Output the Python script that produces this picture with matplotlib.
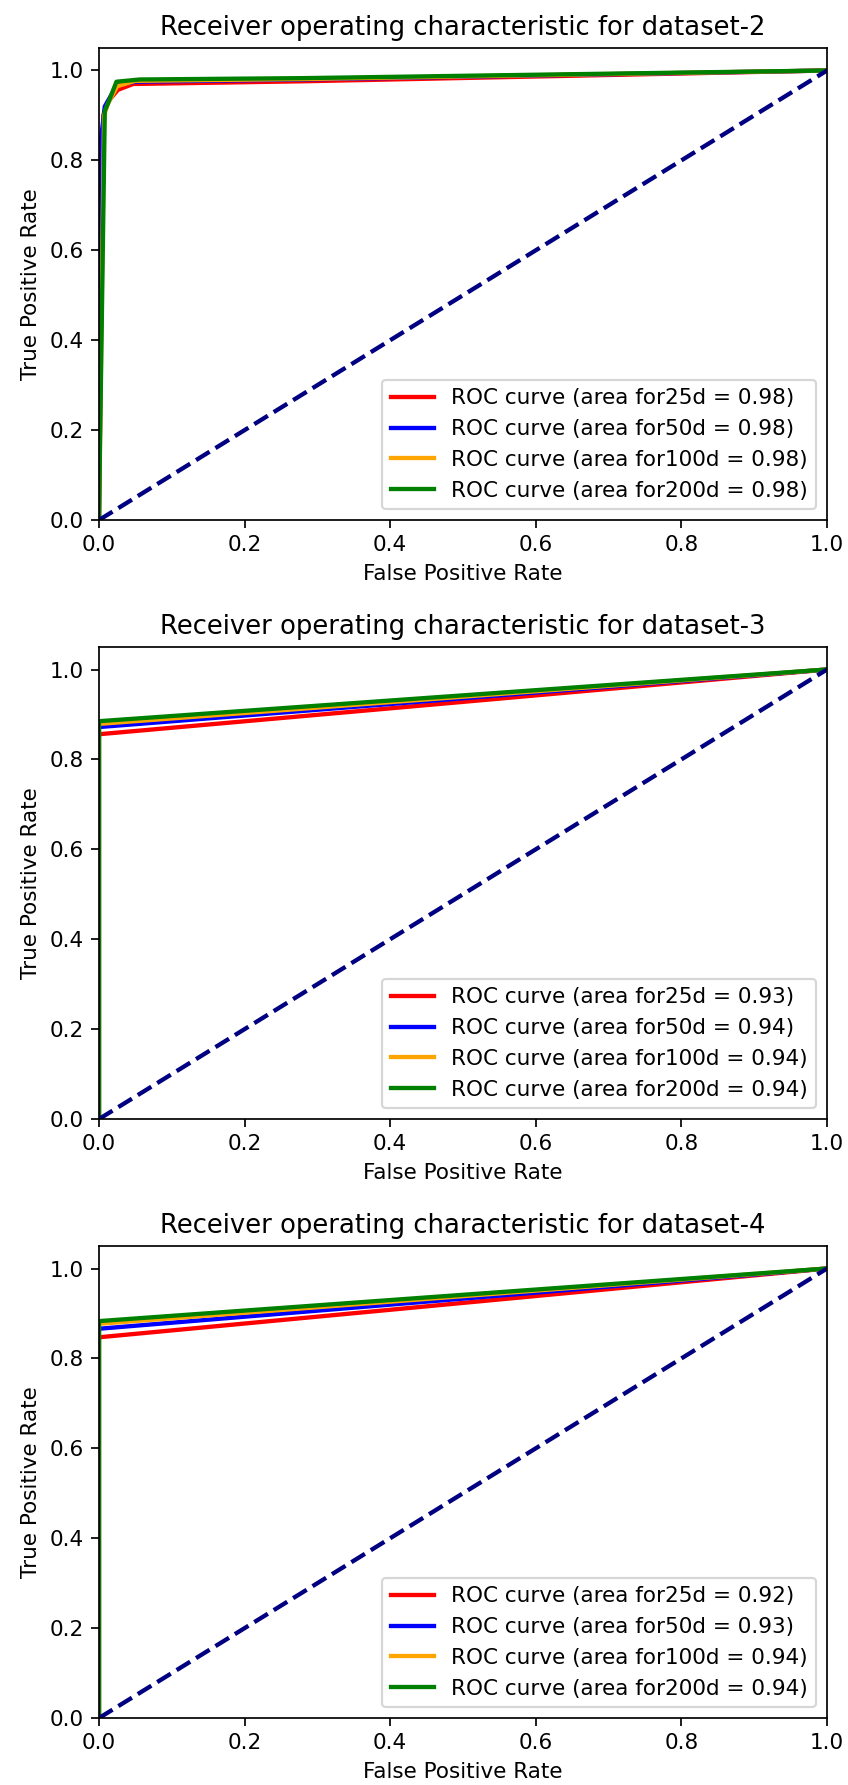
import numpy as np
import matplotlib
matplotlib.use("Agg")
import matplotlib.pyplot as plt

# ROC points per embedding size, one block per dataset
DIMS = ["25d", "50d", "100d", "200d"]
COLORS = ["red", "blue", "orange", "green"]
DATASETS = ["dataset-2", "dataset-3", "dataset-4"]

# dataset-2: steep curves, almost perfect
fpr_ds2 = [
    [0, 0.006, 0.012, 0.026, 0.047, 0.28, 1],
    [0, 0.003, 0.008, 0.025, 0.05, 0.28, 1],
    [0, 0.007, 0.012, 0.025, 0.05, 0.28, 1],
    [0, 0.008, 0.012, 0.024, 0.056, 0.28, 1],
]
tpr_ds2 = [
    [0, 0.90, 0.93, 0.957, 0.970, 0.976, 1],
    [0, 0.85, 0.92, 0.968, 0.975, 0.980, 1],
    [0, 0.90, 0.925, 0.965, 0.977, 0.981, 1],
    [0, 0.91, 0.925, 0.975, 0.980, 0.983, 1],
]

# dataset-3 / dataset-4: single operating point then straight to (1, 1)
fpr_ds3 = [[0, 0, 1]] * 4
tpr_ds3 = [
    [0, 0.856, 1],
    [0, 0.872, 1],
    [0, 0.879, 1],
    [0, 0.885, 1],
]
fpr_ds4 = [[0, 0, 1]] * 4
tpr_ds4 = [
    [0, 0.847, 1],
    [0, 0.866, 1],
    [0, 0.877, 1],
    [0, 0.883, 1],
]

FPR = [fpr_ds2, fpr_ds3, fpr_ds4]
TPR = [tpr_ds2, tpr_ds3, tpr_ds4]

DPI = 155
fig, axes = plt.subplots(3, 1, figsize=(848 / DPI, 1785 / DPI), dpi=DPI)
fig.subplots_adjust(left=0.1167, right=0.9752, top=0.9731, bottom=0.0375, hspace=0.269)

for ax, name, fprs, tprs in zip(axes, DATASETS, FPR, TPR):
    for dim, c, f, t in zip(DIMS, COLORS, fprs, tprs):
        auc = np.trapezoid(t, f)
        ax.plot(f, t, color=c, lw=2, label=f"ROC curve (area for{dim} = {auc:0.2f})")
    ax.plot([0, 1], [0, 1], color="navy", lw=2, linestyle="--")
    ax.set_xlim([0.0, 1.0])
    ax.set_ylim([0.0, 1.05])
    ax.set_xlabel("False Positive Rate")
    ax.set_ylabel("True Positive Rate")
    ax.set_title(f"Receiver operating characteristic for {name}")
    ax.legend(loc="lower right")

fig.savefig("out.png", dpi=DPI)
